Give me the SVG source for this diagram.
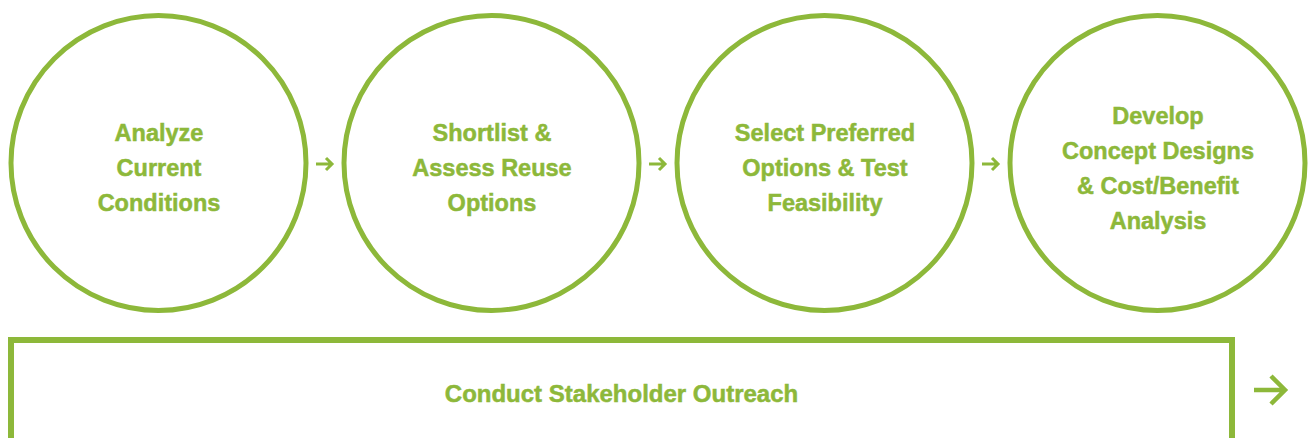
<svg xmlns="http://www.w3.org/2000/svg" width="1308" height="438" viewBox="0 0 1308 438">
<style>
.c{fill:none;stroke:#8db83a;stroke-width:5}
.t{font-family:"Liberation Sans",Arial,sans-serif;font-weight:bold;font-size:23.5px;fill:#8db83a;stroke:#8db83a;stroke-width:0.5;text-anchor:middle}
.a{fill:none;stroke:#8db83a;stroke-width:3}
.b{fill:none;stroke:#8db83a;stroke-width:4.5}
</style>
<rect width="1308" height="438" fill="#ffffff"/>
<g id="node1">
<circle class="c" cx="158.5" cy="163" r="147.5"/>
<text class="t" x="159" y="141">Analyze</text>
<text class="t" x="159" y="176">Current</text>
<text class="t" x="159" y="211">Conditions</text>
</g>
<g id="node2">
<circle class="c" cx="491.5" cy="163" r="147.5"/>
<text class="t" x="492" y="141">Shortlist &amp;</text>
<text class="t" x="492" y="176">Assess Reuse</text>
<text class="t" x="492" y="211">Options</text>
</g>
<g id="node3">
<circle class="c" cx="824.5" cy="163" r="147.5"/>
<text class="t" x="825" y="141">Select Preferred</text>
<text class="t" x="825" y="176">Options &amp; Test</text>
<text class="t" x="825" y="211">Feasibility</text>
</g>
<g id="node4">
<circle class="c" cx="1157.5" cy="163" r="147.5"/>
<text class="t" x="1158" y="124">Develop</text>
<text class="t" x="1158" y="159">Concept Designs</text>
<text class="t" x="1158" y="194">&amp; Cost/Benefit</text>
<text class="t" x="1158" y="229">Analysis</text>
</g>
<g id="node5">
<rect x="11" y="340" width="1221" height="200" fill="none" stroke="#8db83a" stroke-width="6"/>
<text class="t" x="621.5" y="402" style="font-size:24px">Conduct Stakeholder Outreach</text>
</g>
<g id="connectors">
<path class="a" d="M316 164H332M326 158L332 164L326 170"/>
<path class="a" d="M649 164H665M659 158L665 164L659 170"/>
<path class="a" d="M982 164H998M992 158L998 164L992 170"/>
<path class="b" d="M1254 390H1285M1271 376L1285 390L1271 404"/>
</g>
</svg>
